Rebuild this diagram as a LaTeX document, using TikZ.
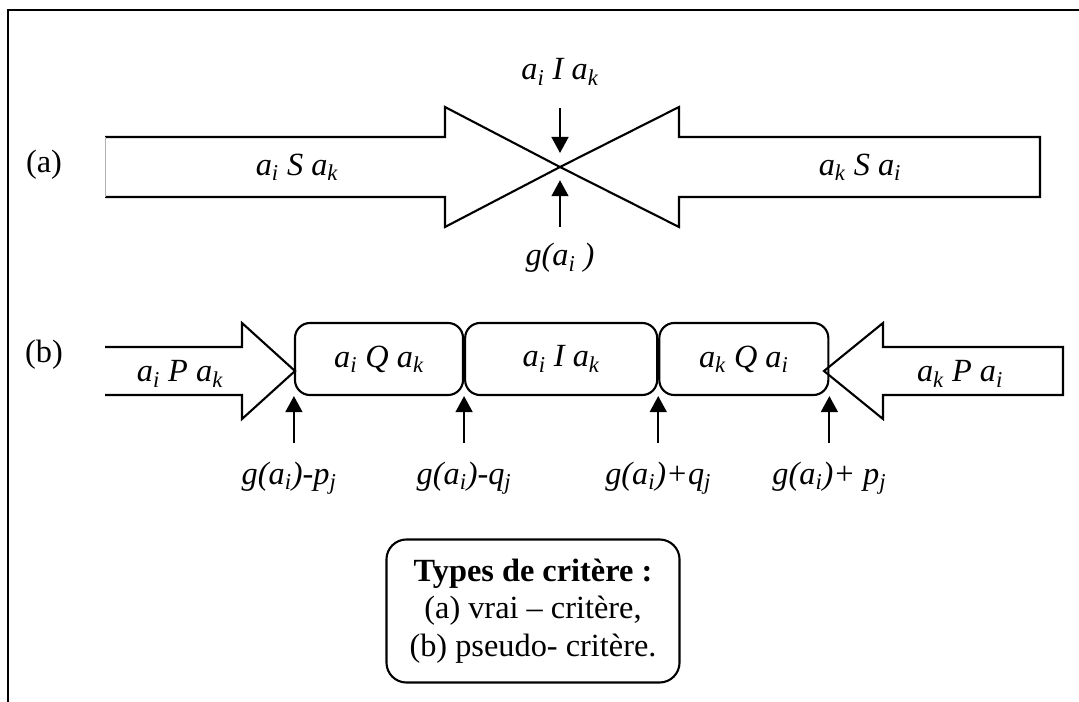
\documentclass[tikz,border=0pt]{standalone}
\usepackage{fontspec}
\setmainfont{Liberation Serif}
\usepackage{tikz}
\usetikzlibrary{
  arrows.meta,
  positioning
}
\newcommand{\ix}[1]{\textsubscript{#1}}
\newcommand{\figsize}{\fontsize{23}{26.5}\selectfont}
\tikzset{
  frameline/.style={
    draw,
    line width=2pt
  },
  bigarrow/.style={
    draw,
    line width=1.5pt,
    line join=miter
  },
  edgeline/.style={
    draw=black!30,
    line width=0.6pt
  },
  relbox/.style={
    draw,
    line width=1.5pt,
    rounded corners=0.375cm,
    minimum height=1.8cm,
    inner sep=0pt
  },
  legend/.style={
    draw,
    line width=1.5pt,
    rounded corners=0.5cm,
    align=center,
    minimum width=7.325cm,
    minimum height=3.575cm
  },
  rel/.style={
    font=\figsize\itshape
  },
  pointer/.style={
    -{Triangle[length=0.4cm,width=0.42cm]},
    line width=1.5pt
  }
}

\begin{document}
\begin{tikzpicture}[
  x=0.025cm,
  y=-0.025cm,
  font=\figsize
]
  \useasboundingbox (0,0) rectangle (1079,702);
  \draw[frameline] (8,702) -- (8,10) -- (1079,10);

  % (a) vrai-critere
  \node (tagA) at (44,165) {(a)};
  \draw[bigarrow]
    (105,137) -- (445,137) -- (445,107) -- (560,167)
    -- (445,227) -- (445,197) -- (105,197);
  \draw[edgeline] (105,137) -- (105,197);
  \draw[bigarrow]
    (1040,137) -- (679,137) -- (679,107) -- (560,167)
    -- (679,227) -- (679,197) -- (1040,197) -- cycle;
  \coordinate (cross) at (560,167);
  \node[rel] (aiSak) at (297,167) {a\ix{i} S a\ix{k}};
  \node[rel] (akSai) at (860,167) {a\ix{k} S a\ix{i}};
  \node[rel] (aiIak) at (560,72) {a\ix{i} I a\ix{k}};
  \node[rel] (gai) at (560,258) {g(a\ix{i} )};
  \coordinate (downTail) at (560,108);
  \coordinate (upTail) at (560,227);
  \draw[pointer] (downTail) -- ([yshift=0.35cm]cross);
  \draw[pointer] (upTail) -- ([yshift=-0.33cm]cross);

  % (b) pseudo-critere
  \node (tagB) at (44,355) {(b)};
  \node[relbox, minimum width=4.2cm, rel] (iQk) at (379,359) {a\ix{i} Q a\ix{k}};
  \node[relbox, minimum width=4.8cm, rel, right=0pt of iQk] (iIk) {a\ix{i} I a\ix{k}};
  \node[relbox, minimum width=4.225cm, rel, right=0pt of iIk] (kQi) {a\ix{k} Q a\ix{i}};
  \draw[bigarrow]
    (105,347) -- (242,347) -- (242,323) -- (295,371)
    -- (242,419) -- (242,395) -- (105,395);
  \draw[bigarrow]
    (1063,347) -- (883,347) -- (883,323) -- (824,371)
    -- (883,419) -- (883,395) -- (1063,395) -- cycle;
  \node[rel] (aiPak) at (180,374) {a\ix{i} P a\ix{k}};
  \node[rel] (akPai) at (960,374) {a\ix{k} P a\ix{i}};

  \coordinate (foot) at (0,443);
  \coordinate (lab) at (0,478);
  \draw[pointer] (iQk.south west |- foot) -- (iQk.south west);
  \draw[pointer] (iQk.south east |- foot) -- (iQk.south east);
  \draw[pointer] (kQi.south west |- foot) -- (kQi.south west);
  \draw[pointer] (kQi.south east |- foot) -- (kQi.south east);
  \node[rel] (gmp) at ([xshift=-0.12cm]iQk.south west |- lab) {g(a\ix{i})-p\ix{j}};
  \node[rel] (gmq) at (iQk.south east |- lab) {g(a\ix{i})-q\ix{j}};
  \node[rel] (gpq) at (kQi.south west |- lab) {g(a\ix{i})+q\ix{j}};
  \node[rel] (gpp) at (kQi.south east |- lab) {g(a\ix{i})+ p\ix{j}};

  % legende
  \node[legend] (types) at (533,611) {
    \textbf{Types de critère :}\\
    (a) vrai – critère,\\
    (b) pseudo- critère.
  };
\end{tikzpicture}
\end{document}
